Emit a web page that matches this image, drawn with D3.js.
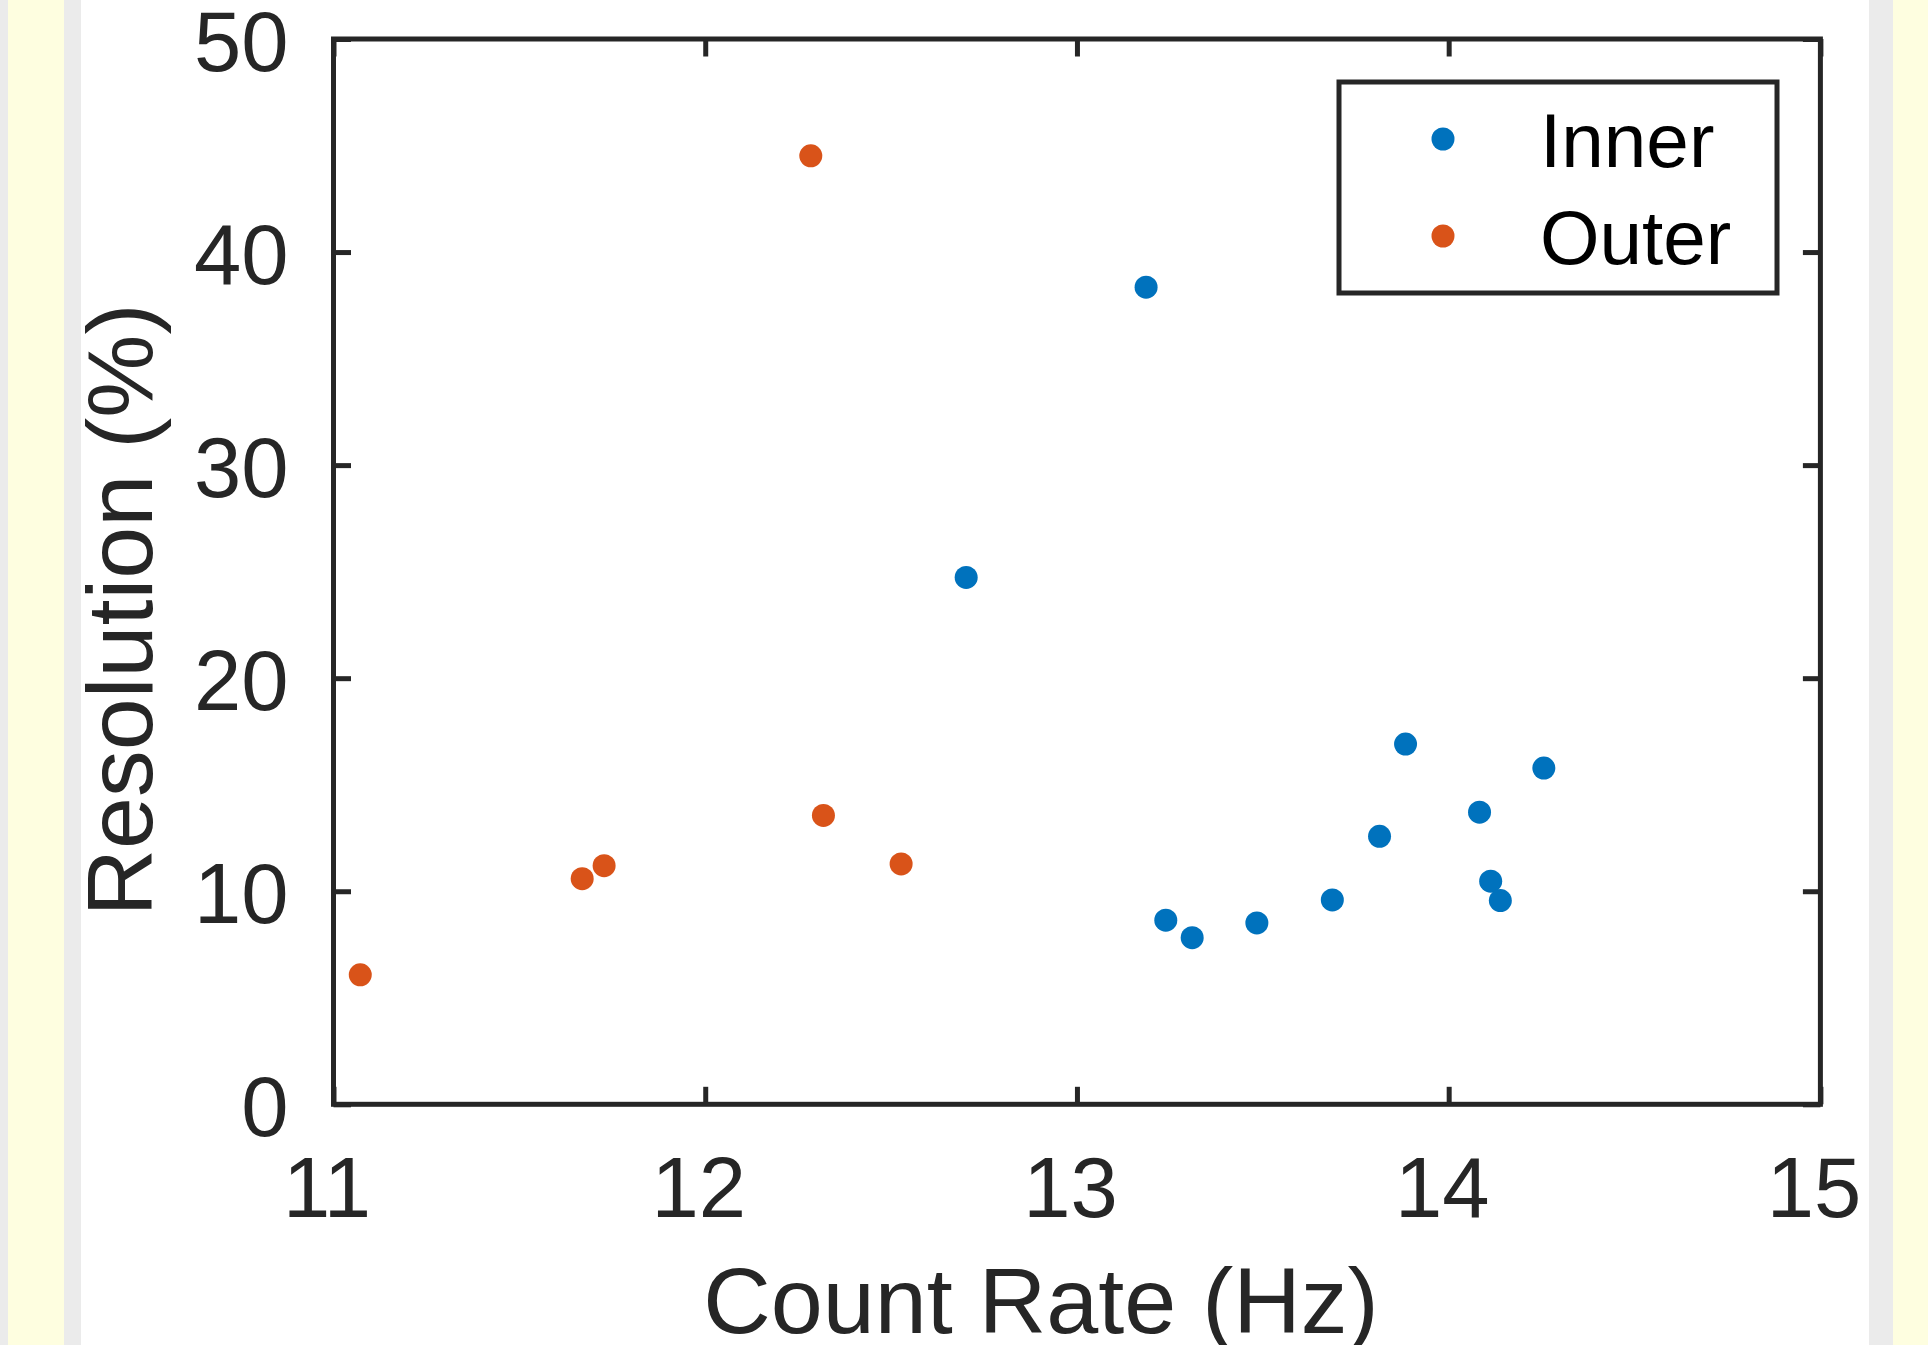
<!DOCTYPE html>
<html>
<head>
<meta charset="utf-8">
<script src="https://cdn.jsdelivr.net/npm/d3@7"></script>
<style>
  body { margin: 0; background: #fff; }
  text { font-family: "Liberation Sans", Arial, sans-serif; }
</style>
</head>
<body>
<div id="chart"></div>
<script>
// Data
const innerRate = [13.186, 12.702, 13.239, 13.310, 13.484, 13.687, 13.814, 13.884, 14.083, 14.113, 14.139, 14.256];
const innerRes = [38.35, 24.73, 8.64, 7.82, 8.51, 9.59, 12.58, 16.91, 13.71, 10.47, 9.56, 15.78];
const outerRate = [11.072, 11.669, 11.728, 12.284, 12.318, 12.527];
const outerRes = [6.08, 10.59, 11.20, 44.52, 13.56, 11.28];

const seriesNames = ["Inner", "Outer"];
const seriesColors = ["#0072BD", "#D95319"];
const xTicks = [11, 12, 13, 14, 15];
const yTicks = [0, 10, 20, 30, 40, 50];

const width = 1928;
const height = 1345;
const margin = { top: 39, right: 107.6, bottom: 240.7, left: 333.5 };
const axisColor = "#262626";
const tickLen = 17.5;

const svg = d3.select("#chart")
  .append("svg")
  .attr("width", width)
  .attr("height", height);

// side strips of the page
const strips = [
  [0, 8, "#ebebeb"], [8, 56, "#fefee0"], [64, 17, "#ebebeb"],
  [1869, 24, "#ebebeb"], [1893, 35, "#fefee0"]
];
svg.selectAll("rect.strip")
  .data(strips)
  .enter()
  .append("rect")
  .attr("class", "strip")
  .attr("x", d => d[0])
  .attr("y", 0)
  .attr("width", d => d[1])
  .attr("height", height)
  .attr("fill", d => d[2]);

// scales
const xScale = d3.scaleLinear()
  .domain([11, 15])
  .range([margin.left, width - margin.right]);

const yScale = d3.scaleLinear()
  .domain([0, 50])
  .range([height - margin.bottom, margin.top]);

// points
const series = [
  { name: seriesNames[0], color: seriesColors[0], x: innerRate, y: innerRes },
  { name: seriesNames[1], color: seriesColors[1], x: outerRate, y: outerRes }
];

series.forEach(s => {
  svg.append("g")
    .selectAll("circle")
    .data(s.x.map((v, i) => [v, s.y[i]]))
    .enter()
    .append("circle")
    .attr("cx", d => xScale(d[0]))
    .attr("cy", d => yScale(d[1]))
    .attr("r", 11.5)
    .attr("fill", s.color);
});

// axes (ticks inward on all four sides)
function styleAxis(g) {
  g.select(".domain").remove();
  g.selectAll(".tick line").attr("stroke", axisColor).attr("stroke-width", 5);
  g.selectAll(".tick text").attr("fill", axisColor).style("font-size", "85px");
}

svg.append("g")
  .attr("transform", `translate(0, ${yScale(0)})`)
  .call(d3.axisBottom(xScale).tickValues(xTicks).tickSize(-tickLen).tickPadding(52).tickFormat(d3.format("d")))
  .call(styleAxis)
  .call(g => g.selectAll(".tick text").attr("dy", "0.71em").attr("dx", -7));

svg.append("g")
  .attr("transform", `translate(0, ${yScale(50)})`)
  .call(d3.axisTop(xScale).tickValues(xTicks).tickSize(-tickLen).tickFormat(""))
  .call(styleAxis);

svg.append("g")
  .attr("transform", `translate(${xScale(11)}, 0)`)
  .call(d3.axisLeft(yScale).tickValues(yTicks).tickSize(-tickLen).tickPadding(45).tickFormat(d3.format("d")))
  .call(styleAxis)
  .call(g => g.selectAll(".tick text").attr("dy", "0.37em"));

svg.append("g")
  .attr("transform", `translate(${xScale(15)}, 0)`)
  .call(d3.axisRight(yScale).tickValues(yTicks).tickSize(-tickLen).tickFormat(""))
  .call(styleAxis);

// axes box
svg.append("rect")
  .attr("x", xScale(11))
  .attr("y", yScale(50))
  .attr("width", xScale(15) - xScale(11))
  .attr("height", yScale(0) - yScale(50))
  .attr("fill", "none")
  .attr("stroke", axisColor)
  .attr("stroke-width", 5);

// axis labels
svg.append("text")
  .attr("x", 1041)
  .attr("y", 1333)
  .attr("text-anchor", "middle")
  .attr("fill", axisColor)
  .style("font-size", "93.5px")
  .text("Count Rate (Hz)");

svg.append("text")
  .attr("transform", "translate(152, 610) rotate(-90)")
  .attr("text-anchor", "middle")
  .attr("fill", axisColor)
  .style("font-size", "93.5px")
  .text("Resolution (%)");

// legend
const legend = svg.append("g");
legend.append("rect")
  .attr("x", 1339)
  .attr("y", 82)
  .attr("width", 438)
  .attr("height", 211)
  .attr("fill", "#fff")
  .attr("stroke", axisColor)
  .attr("stroke-width", 5);

const items = legend.selectAll("g.item")
  .data(series)
  .enter()
  .append("g")
  .attr("class", "item")
  .attr("transform", (d, i) => `translate(0, ${139 + i * 97})`);

items.append("circle")
  .attr("cx", 1443)
  .attr("cy", 0)
  .attr("r", 11.5)
  .attr("fill", d => d.color);

items.append("text")
  .attr("x", 1540)
  .attr("y", 0)
  .attr("dy", "0.36em")
  .attr("fill", "#000")
  .style("font-size", "76.5px")
  .text(d => d.name);
</script>
</body>
</html>
